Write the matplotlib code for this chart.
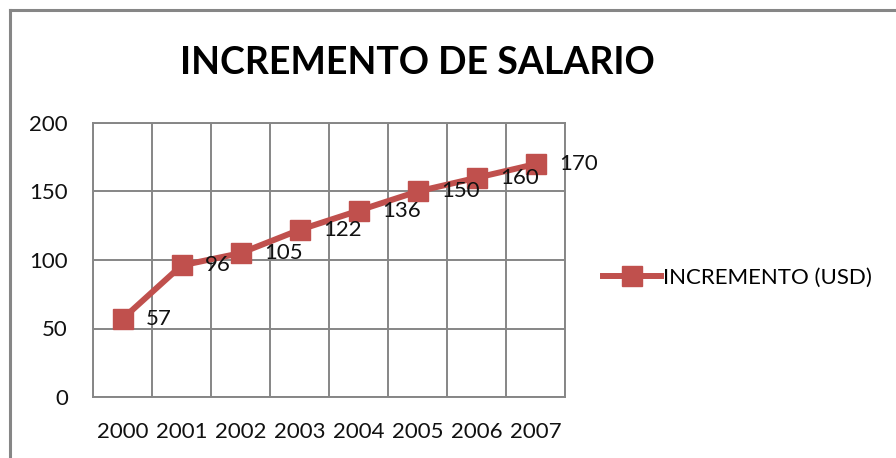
import matplotlib
matplotlib.use("Agg")
import matplotlib.pyplot as plt
from matplotlib.lines import Line2D

# Datos
years = ["2000", "2001", "2002", "2003", "2004", "2005", "2006", "2007"]
values = [57, 96, 105, 122, 136, 150, 160, 170]
y_ticks = [0, 50, 100, 150, 200]
title = "INCREMENTO DE SALARIO"
series_name = "INCREMENTO (USD)"

red = "#C0504D"
gray = "#868686"

plt.rcParams["font.family"] = ["Lato", "DejaVu Sans"]

fig = plt.figure(figsize=(8.96, 4.58), dpi=100)
ax = fig.add_axes([93 / 896, 1 - 397 / 458, 472 / 896, 274 / 458])

x = list(range(len(years)))
ax.plot(x, values, color=red, linewidth=4.3, marker="s", markersize=14,
        markerfacecolor=red, markeredgecolor=red, label=series_name, zorder=3)

for xi, v in zip(x, values):
    ax.annotate(str(v), (xi, v), xytext=(17, 0), textcoords="offset points",
                ha="left", va="center", fontsize=16, color="#111111", zorder=4)

ax.set_xlim(-0.5, len(years) - 0.5)
ax.set_ylim(0, 200)
ax.set_xticks(x)
ax.set_xticklabels(years)
ax.set_xticks([i + 0.5 for i in range(-1, len(years))], minor=True)
ax.set_yticks(y_ticks)
ax.tick_params(axis="both", which="both", length=0, labelsize=16, colors="#111111")
ax.tick_params(axis="x", pad=18)
ax.tick_params(axis="y", pad=18)
ax.grid(True, axis="y", which="major", color=gray, linewidth=1.4)
ax.grid(True, axis="x", which="minor", color=gray, linewidth=1.4)
ax.set_axisbelow(True)
for s in ax.spines.values():
    s.set_color(gray)
    s.set_linewidth(1.4)

fig.text(417 / 896, 1 - 63 / 458, title, ha="center", va="center",
         fontsize=27, fontweight="bold", color="black")

ax.legend(loc="center left", bbox_to_anchor=(603 / 896, 1 - 278 / 458),
          bbox_transform=fig.transFigure, frameon=False, fontsize=16,
          handlelength=2.6, handletextpad=0.1, borderpad=0, borderaxespad=0)

# marco del grafico
fig.add_artist(Line2D([10 / 896, 10 / 896], [0, 1 - 10 / 458], color=gray, linewidth=2.2))
fig.add_artist(Line2D([10 / 896, 1], [1 - 10 / 458, 1 - 10 / 458], color=gray, linewidth=2.2))

fig.savefig("out.png", dpi=100)
